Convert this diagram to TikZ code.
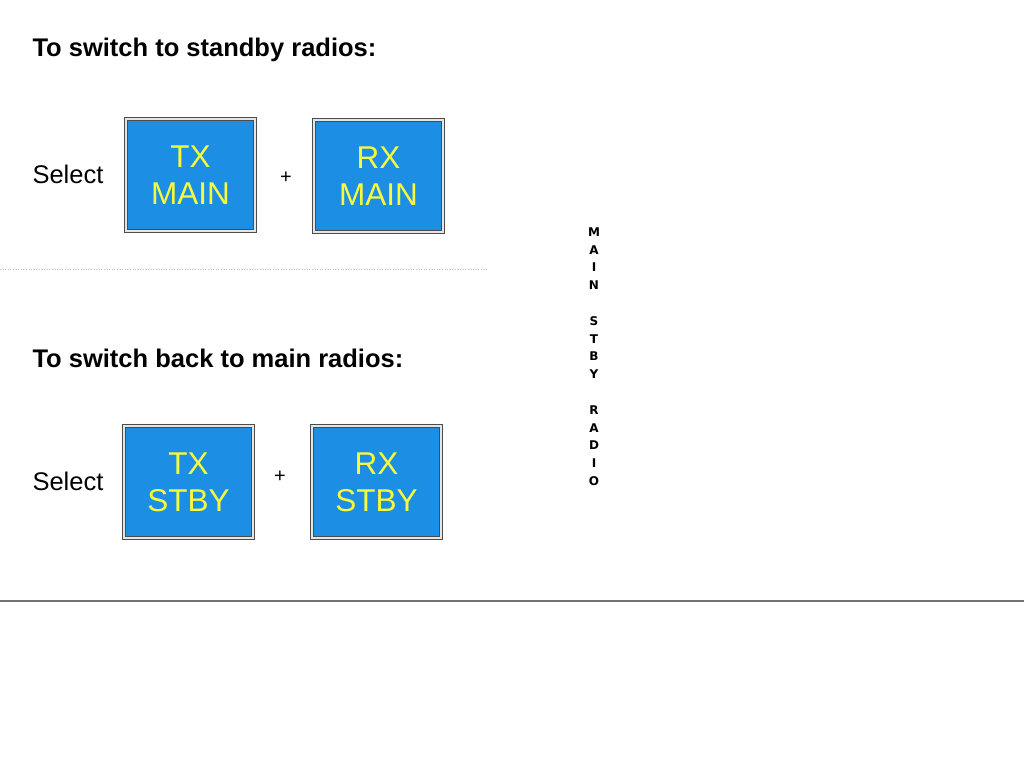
\documentclass[tikz,border=0pt]{standalone}
\usepackage{fontspec}
\setmainfont{Liberation Sans}
\newfontfamily\heavyfont{DejaVu Sans}
\usetikzlibrary{positioning}
\definecolor{keyblue}{RGB}{28,142,228}
\definecolor{keyyellow}{RGB}{250,250,60}
\tikzset{
	keybox/.style={draw=black!70, double=white!80!gray, double distance=1.2pt, line width=1.3pt,
		fill=keyblue, text=keyyellow, minimum width=129pt, minimum height=112pt,
		align=center, font=\fontsize{31.5}{37}\selectfont},
	heading/.style={anchor=west, font=\bfseries\fontsize{25.5}{28}\selectfont},
	label/.style={anchor=west, font=\fontsize{25.5}{28}\selectfont},
	plus/.style={font=\fontsize{20}{22}\selectfont},
	vletter/.style={font=\heavyfont\bfseries\fontsize{12}{13}\selectfont}
}

\begin{document}
\begin{tikzpicture}[x=1pt, y=-1pt]
	\useasboundingbox (0,0) rectangle (1024,768);
	% switch to standby
	\node[heading] (head1) at (29,50) {To switch to standby radios:};
	\node[label] (sel1) at (29,174) {Select};
	\node[keybox] (txmain) at (190.5,175) {TX\\MAIN};
	\node[keybox] (rxmain) at (378.5,176) {RX\\MAIN};
	\node[plus] (plus1) at (286,178) {+};
	\draw[gray!55, dotted, line width=0.6pt] (0,269) -- (487,269);
	% switch back to main
	\node[heading] (head2) at (29,358) {To switch back to main radios:};
	\node[label] (sel2) at (29,481) {Select};
	\node[keybox] (txstby) at (188.5,482) {TX\\STBY};
	\node[keybox] (rxstby) at (376.5,482) {RX\\STBY};
	\node[plus] (plus2) at (280,477) {+};
	% vertical caption
	\foreach \l [count=\i] in {M,A,I,N,{},S,T,B,Y,{},R,A,D,I,O}
		\node[vletter] (v\i) at (594,{232+(\i-1)*17.8}) {\l};
	\draw[black!55, line width=1.5pt] (0,601) -- (1024,601);
\end{tikzpicture}
\end{document}
